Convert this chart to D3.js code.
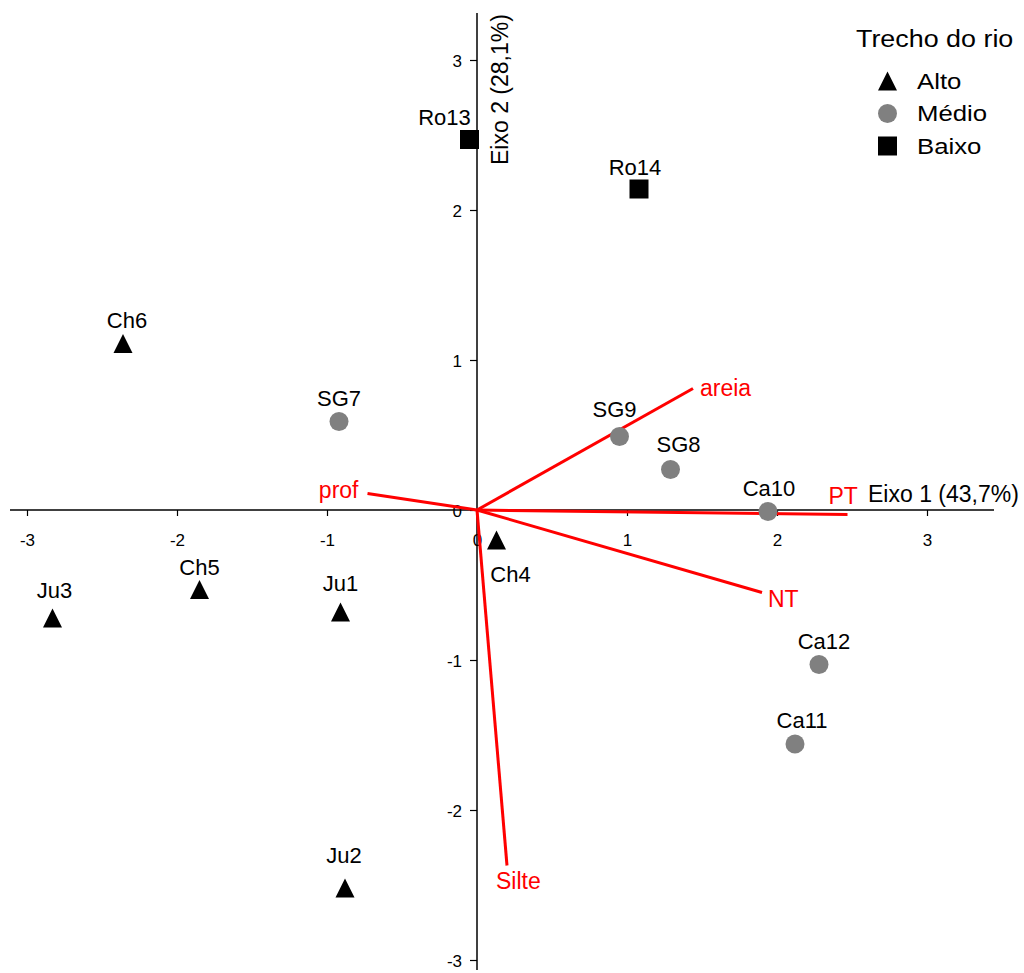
<!DOCTYPE html>
<html>
<head>
<meta charset="utf-8">
<script src="https://cdn.jsdelivr.net/npm/d3@7"></script>
<style>
  body { margin: 0; background: #fff; }
  svg text { font-family: "Liberation Sans", Arial, sans-serif; }
</style>
</head>
<body>
<div id="chart"></div>
<script>
// site scores (PCA)
const sites = ["Ro13", "Ro14", "Ch6", "SG7", "SG9", "SG8", "Ca10", "Ch4", "Ch5", "Ju3", "Ju1", "Ca12", "Ca11", "Ju2"]
const siteX = [-0.05, 1.08, -2.36, -0.92, 0.95, 1.29, 1.94, 0.13, -1.85, -2.83, -0.91, 2.28, 2.12, -0.88]
const siteY = [2.47, 2.14, 1.11, 0.59, 0.49, 0.27, -0.01, -0.20, -0.53, -0.72, -0.68, -1.03, -1.56, -2.52]
const siteGroup = ["Baixo", "Baixo", "Alto", "Médio", "Médio", "Médio", "Médio", "Alto", "Alto", "Alto", "Alto", "Médio", "Médio", "Alto"]

// environmental variables (vectors)
const vars = ["areia", "prof", "PT", "NT", "Silte"]
const varX = [1.44, -0.73, 2.47, 1.90, 0.20]
const varY = [0.81, 0.11, -0.03, -0.55, -2.37]

const groups = ["Alto", "Médio", "Baixo"]
const ticks = [-3, -2, -1, 0, 1, 2, 3]

const width = 1024, height = 973
const FONT = 23

// label nudges (dx, baseline offset) so labels sit like in the original
const labelNudge = {
    Ro13: [-25, -15], Ro14: [-4, -14], Ch6: [4, -16], SG7: [0, -16],
    SG9: [-5, -20], SG8: [8, -18], Ca10: [1, -16], Ch4: [14, 42],
    Ch5: [0, -15], Ju3: [2, -20], Ju1: [0, -21], Ca12: [5, -16],
    Ca11: [7, -16], Ju2: [-1, -25]
}

const svg = d3.select("#chart").append("svg")
    .attr("width", width)
    .attr("height", height)

const x = d3.scaleLinear().domain([-3, 3]).range([27, 927])
const y = d3.scaleLinear().domain([-3, 3]).range([960, 60])

const x0 = x(0), y0 = y(0)

/* AXES */
svg.append("line")
    .attr("x1", 10).attr("x2", 994)
    .attr("y1", y0).attr("y2", y0)
    .style("stroke", "black").style("stroke-width", 1.5)
svg.append("line")
    .attr("x1", x0).attr("x2", x0)
    .attr("y1", 13).attr("y2", 970)
    .style("stroke", "black").style("stroke-width", 1.5)

const xAxis = svg.append("g")
    .attr("transform", `translate(0,${y0})`)
    .call(d3.axisBottom(x).tickValues(ticks).tickSize(6).tickFormat(d => String(d)))
xAxis.select(".domain").remove()
xAxis.selectAll(".tick line").style("stroke-width", 1.2)
xAxis.selectAll(".tick text")
    .attr("y", 36).attr("dy", 0)
    .style("font-size", "17px").style("fill", "black")

const yAxis = svg.append("g")
    .attr("transform", `translate(${x0},0)`)
    .call(d3.axisLeft(y).tickValues(ticks).tickSize(7).tickFormat(d => String(d)))
yAxis.select(".domain").remove()
yAxis.selectAll(".tick line").style("stroke-width", 1.2)
yAxis.selectAll(".tick text")
    .attr("x", -15).attr("dy", "0.36em")
    .style("font-size", "17px").style("fill", "black")

// axis titles
svg.append("text")
    .attr("x", 868).attr("y", 502)
    .style("font-size", FONT + "px")
    .text("Eixo 1 (43,7%)")
svg.append("text")
    .attr("transform", `translate(508,165) rotate(-90)`)
    .style("font-size", FONT + "px")
    .text("Eixo 2 (28,1%)")

/* VECTORS */
const vec = vars.map((v, i) => ({ name: v, x: varX[i], y: varY[i] }))
svg.selectAll(".vec")
    .data(vec)
    .join("line")
    .attr("class", "vec")
    .attr("x1", x0).attr("y1", y0)
    .attr("x2", d => x(d.x)).attr("y2", d => y(d.y))
    .style("stroke", "#ff0000")
    .style("stroke-width", 3)

const vecLabelPos = {
    areia: [7, 7, "start"], prof: [-9, 4, "end"], PT: [-19, -11, "start"],
    NT: [6, 14, "start"], Silte: [-11, 23, "start"]
}
svg.selectAll(".vec-label")
    .data(vec)
    .join("text")
    .attr("class", "vec-label")
    .attr("x", d => x(d.x) + vecLabelPos[d.name][0])
    .attr("y", d => y(d.y) + vecLabelPos[d.name][1])
    .attr("text-anchor", d => vecLabelPos[d.name][2])
    .style("font-size", FONT + "px")
    .style("fill", "#ff0000")
    .text(d => d.name)

/* SITES */
const tri = "M0,-9.5L9.5,9.5L-9.5,9.5Z"
const sq = "M-9.5,-9.5H9.5V9.5H-9.5Z"
function drawSymbol(sel, g) {
    if (g === "Alto") sel.append("path").attr("d", tri).style("fill", "black")
    else if (g === "Baixo") sel.append("path").attr("d", sq).style("fill", "black")
    else sel.append("circle").attr("r", 9.5).style("fill", "#808080")
}

const pts = sites.map((s, i) => ({ name: s, x: siteX[i], y: siteY[i], g: siteGroup[i] }))
const pt = svg.selectAll(".site")
    .data(pts)
    .join("g")
    .attr("class", "site")
    .attr("transform", d => `translate(${x(d.x)},${y(d.y)})`)
pt.each(function(d) { drawSymbol(d3.select(this), d.g) })
pt.append("text")
    .attr("x", d => labelNudge[d.name][0])
    .attr("y", d => labelNudge[d.name][1])
    .attr("text-anchor", "middle")
    .style("font-size", "22px")
    .text(d => d.name)

/* LEGEND */
const legend = svg.append("g").attr("transform", "translate(856,0)")
legend.append("text")
    .attr("transform", "translate(0,47) scale(1.12,1)")
    .style("font-size", "24px")
    .text("Trecho do rio")
groups.forEach((g, i) => {
    const row = legend.append("g").attr("transform", `translate(0,${81 + i * 32.5})`)
    const sym = row.append("g").attr("transform", "translate(31.5,0)")
    drawSymbol(sym, g)
    row.append("text")
        .attr("transform", "translate(61,7.5) scale(1.12,1)")
        .style("font-size", FONT + "px")
        .text(g)
})
</script>
</body>
</html>
